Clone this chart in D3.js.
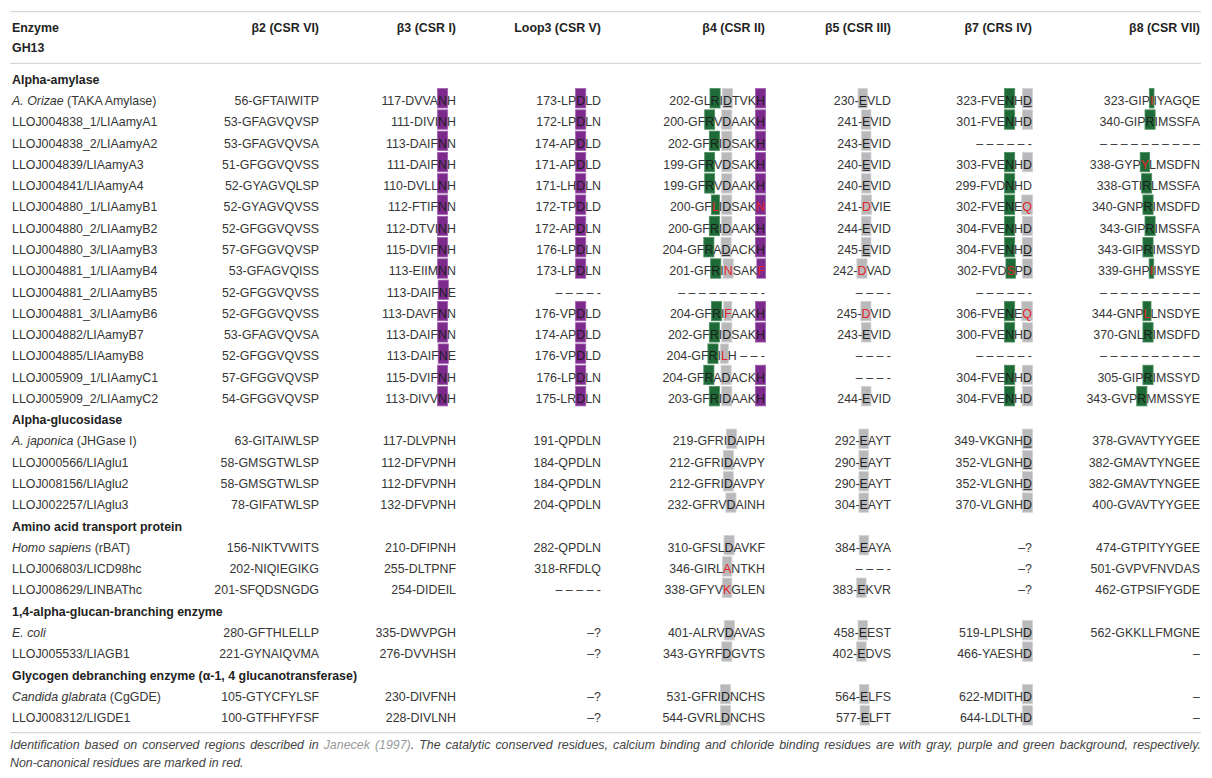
<!DOCTYPE html>
<html>
<head>
<meta charset="utf-8">
<script src="https://cdn.jsdelivr.net/npm/d3@7"></script>
<style>
  body { margin: 0; background: #fff; }
  text { font-family: "Liberation Sans", Arial, Helvetica, sans-serif; white-space: pre; }
</style>
</head>
<body>
<svg id="chart" width="1212" height="778"></svg>
<script>
// ---- data ----
// markup: [codes:X] -> g green bg, p purple bg, k gray bg, r red letter, u underline
const columns = ["β2 (CSR VI)", "β3 (CSR I)", "Loop3 (CSR V)", "β4 (CSR II)", "β5 (CSR III)", "β7 (CRS IV)", "β8 (CSR VII)"];

const groups = [
  "Alpha-amylase",
  "Alpha-glucosidase",
  "Amino acid transport protein",
  "1,4-alpha-glucan-branching enzyme",
  "Glycogen debranching enzyme (α-1, 4 glucanotransferase)"
];
const groupSizes = [15, 4, 3, 2, 2];

const enzymes = [
  "*A. Orizae* (TAKA Amylase)", "LLOJ004838_1/LIAamyA1", "LLOJ004838_2/LIAamyA2", "LLOJ004839/LIAamyA3",
  "LLOJ004841/LIAamyA4", "LLOJ004880_1/LIAamyB1", "LLOJ004880_2/LIAamyB2", "LLOJ004880_3/LIAamyB3",
  "LLOJ004881_1/LIAamyB4", "LLOJ004881_2/LIAamyB5", "LLOJ004881_3/LIAamyB6", "LLOJ004882/LIAamyB7",
  "LLOJ004885/LIAamyB8", "LLOJ005909_1/LIAamyC1", "LLOJ005909_2/LIAamyC2",
  "*A. japonica* (JHGase I)", "LLOJ000566/LIAglu1", "LLOJ008156/LIAglu2", "LLOJ002257/LIAglu3",
  "*Homo sapiens* (rBAT)", "LLOJ006803/LICD98hc", "LLOJ008629/LINBAThc",
  "*E. coli*", "LLOJ005533/LIAGB1",
  "*Candida glabrata* (CgGDE)", "LLOJ008312/LIGDE1"
];

const beta2 = [
  "56-GFTAIWITP", "53-GFAGVQVSP", "53-GFAGVQVSA", "51-GFGGVQVSS", "52-GYAGVQLSP", "52-GYAGVQVSS",
  "52-GFGGVQVSS", "57-GFGGVQVSP", "53-GFAGVQISS", "52-GFGGVQVSS", "52-GFGGVQVSS", "53-GFAGVQVSA",
  "52-GFGGVQVSS", "57-GFGGVQVSP", "54-GFGGVQVSP",
  "63-GITAIWLSP", "58-GMSGTWLSP", "58-GMSGTWLSP", "78-GIFATWLSP",
  "156-NIKTVWITS", "202-NIQIEGIKG", "201-SFQDSNGDG",
  "280-GFTHLELLP", "221-GYNAIQVMA",
  "105-GTYCFYLSF", "100-GTFHFYFSF"
];

const beta3 = [
  "117-DVVA[p:N]H", "111-DIVI[p:N]H", "113-DAIF[p:N]N", "111-DAIF[p:N]H", "110-DVLL[p:N]H", "112-FTIF[p:N]N",
  "112-DTVI[p:N]H", "115-DVIF[p:N]H", "113-EIIM[p:N]N", "113-DAIF[p:N]E", "113-DAVF[p:N]N", "113-DAIF[p:N]N",
  "113-DAIF[p:N]E", "115-DVIF[p:N]H", "113-DIVV[p:N]H",
  "117-DLVPNH", "112-DFVPNH", "112-DFVPNH", "132-DFVPNH",
  "210-DFIPNH", "255-DLTPNF", "254-DIDEIL",
  "335-DWVPGH", "276-DVVHSH",
  "230-DIVFNH", "228-DIVLNH"
];

const loop3 = [
  "173-LP[p:D]LD", "172-LP[p:D]LN", "174-AP[p:D]LD", "171-AP[p:D]LD", "171-LH[p:D]LN", "172-TP[p:D]LD",
  "172-AP[p:D]LN", "176-LP[p:D]LN", "173-LP[p:D]LN", "– – – – -", "176-VP[p:D]LD", "174-AP[p:D]LD",
  "176-VP[p:D]LD", "176-LP[p:D]LN", "175-LR[p:D]LN",
  "191-QPDLN", "184-QPDLN", "184-QPDLN", "204-QPDLN",
  "282-QPDLN", "318-RFDLQ", "– – – – -",
  "–?", "–?",
  "–?", "–?"
];

const beta4 = [
  "202-GL[g:R]I[ku:D]TVK[p:H]", "200-GF[g:R]V[k:D]AAK[p:H]", "202-GF[g:R]I[k:D]SAK[p:H]",
  "199-GF[g:R]V[k:D]SAK[p:H]", "199-GF[g:R]V[k:D]AAK[p:H]", "200-GF[gr:L]I[k:D]SAK[pr:N]",
  "200-GF[g:R]I[k:D]AAK[p:H]", "204-GF[g:R]A[ku:D]ACK[p:H]", "201-GF[g:R]I[kr:N]SAK[pr:F]",
  "– – – – – – – – -", "204-GF[g:R]I[kr:F]AAK[p:H]", "202-GF[g:R]I[k:D]SAK[p:H]",
  "204-GF[g:R]I[kr:L]H – – -", "204-GF[g:R]A[k:D]ACK[p:H]", "203-GF[g:R]I[k:D]AAK[p:H]",
  "219-GFRI[k:D]AIPH", "212-GFRI[k:D]AVPY", "212-GFRI[k:D]AVPY", "232-GFRV[k:D]AINH",
  "310-GFSL[k:D]AVKF", "346-GIRL[kr:A]NTKH", "338-GFYV[kr:K]GLEN",
  "401-ALRV[k:D]AVAS", "343-GYRF[k:D]GVTS",
  "531-GFRI[k:D]NCHS", "544-GVRL[k:D]NCHS"
];

const beta5 = [
  "230-[ku:E]VLD", "241-[k:E]VID", "243-[k:E]VID", "240-[ku:E]VID", "240-[k:E]VID", "241-[kr:D]VIE",
  "244-[k:E]VID", "245-[ku:E]VID", "242-[kr:D]VAD", "– – – -", "245-[kr:D]VID", "243-[k:E]VID",
  "– – – -", "– – – -", "244-[k:E]VID",
  "292-[k:E]AYT", "290-[k:E]AYT", "290-[k:E]AYT", "304-[k:E]AYT",
  "384-[k:E]AYA", "– – – -", "383-[k:E]KVR",
  "458-[k:E]EST", "402-[k:E]DVS",
  "564-[k:E]LFS", "577-[k:E]LFT"
];

const beta7 = [
  "323-FVE[g:N]H[ku:D]", "301-FVE[g:N]H[k:D]", "– – – – – -", "303-FVE[g:N]H[k:D]", "299-FVD[g:N]HD",
  "302-FVE[g:N]E[kr:Q]", "304-FVE[g:N]H[k:D]", "304-FVE[g:N]H[ku:D]", "302-FVD[gr:S]P[k:D]", "– – – – – -",
  "306-FVE[g:N]E[kr:Q]", "300-FVE[g:N]H[k:D]", "– – – – – -", "304-FVE[g:N]H[k:D]", "304-FVE[g:N]H[k:D]",
  "349-VKGNH[ku:D]", "352-VLGNH[ku:D]", "352-VLGNH[ku:D]", "370-VLGNH[k:D]",
  "–?", "–?", "–?",
  "519-LPLSH[k:D]", "466-YAESH[k:D]",
  "622-MDITH[k:D]", "644-LDLTH[k:D]"
];

const beta8 = [
  "323-GIP[gr:I]IYAGQE", "340-GIP[g:R]IMSSFA", "– – – – – – – – – –", "338-GYP[gr:Y]LMSDFN",
  "338-GTI[g:R]LMSSFA", "340-GNP[g:R]IMSDFD", "343-GIP[g:R]IMSSFA", "343-GIP[g:R]IMSSYD",
  "339-GHP[gr:I]IMSSYE", "– – – – – – – – – –", "344-GNP[gr:L]LNSDYE", "370-GNL[g:R]IMSDFD",
  "– – – – – – – – – –", "305-GIP[g:R]IMSSYD", "343-GVP[g:R]MMSSYE",
  "378-GVAVTYYGEE", "382-GMAVTYNGEE", "382-GMAVTYNGEE", "400-GVAVTYYGEE",
  "474-GTPITYYGEE", "501-GVPVFNVDAS", "462-GTPSIFYGDE",
  "562-GKKLLFMGNE", "–",
  "–", "–"
];

const footnote = [
  [["Identification based on conserved regions described in ", "n"], ["Janecek (1997)", "l"],
   [". The catalytic conserved residues, calcium binding and chloride binding residues are with gray, purple and green background, respectively.", "n"]],
  [["Non-canonical residues are marked in red.", "n"]]
];

// ---- styles ----
const ink = "#363636";
const inkOnBox = "#1e1e1e";
const red = "#e3242b";
const fills = { g: "#1f6b38", p: "#7d2a8d", k: "#b9b9bc" };
const strokes = { g: "#4d8f5f", p: "#a262b0", k: "#d3d3d5" };
const fontSize = 12.4;

const svg = d3.select("#chart");
const colData = [beta2, beta3, loop3, beta4, beta5, beta7, beta8];

// column anchors (right edges) and row positions
const colX = d3.scaleOrdinal().domain(columns).range([319, 456, 601, 765, 891, 1032, 1200]);
const nameX = 12;
const nLines = groups.length + enzymes.length;
const rowY = d3.scaleLinear().domain([0, nLines - 1]).range([79.3, 717.7]);
const base = 4.4; // centre -> baseline

// rules
const rules = [11.7, 63.3, 732.7];
svg.selectAll("line.rule").data(rules).enter().append("line")
  .attr("class", "rule")
  .attr("x1", 10).attr("x2", 1201)
  .attr("y1", d => d).attr("y2", d => d)
  .attr("stroke", "#cfcfcf").attr("stroke-width", 1);

// header
const head = svg.append("g").attr("font-weight", "bold").attr("font-size", fontSize).attr("fill", "#222");
head.append("text").attr("x", nameX).attr("y", 27.3 + base).text("Enzyme");
head.append("text").attr("x", nameX).attr("y", 47.7 + base).text("GH13");
head.selectAll("text.col").data(columns).enter().append("text")
  .attr("class", "col")
  .attr("x", d => colX(d)).attr("y", 27.3 + base)
  .attr("text-anchor", "end")
  .text(d => d);

// build line list
const lines = [];
let k = 0;
groups.forEach((gname, gi) => {
  lines.push({ type: "group", label: gname });
  for (let j = 0; j < groupSizes[gi]; j++, k++) lines.push({ type: "row", idx: k });
});

const bgLayer = svg.append("g");
const fgLayer = svg.append("g").attr("font-size", fontSize).attr("fill", ink);

function parseSeq(s) {
  const out = [];
  const re = /\[([a-z]+):(.)\]|([^\[])/g;
  let m;
  while ((m = re.exec(s))) {
    if (m[3] !== undefined) out.push({ ch: m[3], codes: "" });
    else out.push({ ch: m[2], codes: m[1] });
  }
  return out;
}

function drawCell(str, x, y) {
  const segs = parseSeq(str);
  const text = fgLayer.append("text").attr("x", x).attr("y", y).attr("text-anchor", "end");
  // merge plain runs into one tspan
  let run = "";
  segs.forEach(s => {
    if (!s.codes) { run += s.ch; return; }
    if (run) { text.append("tspan").text(run); run = ""; }
    text.append("tspan").text(s.ch).attr("fill", s.codes.includes("r") ? red : inkOnBox);
  });
  if (run) text.append("tspan").text(run);

  const node = text.node();
  segs.forEach((s, i) => {
    if (!s.codes) return;
    const e = node.getExtentOfChar(i);
    const bg = ["g", "p", "k"].find(c => s.codes.includes(c));
    if (bg) {
      bgLayer.append("rect")
        .attr("x", e.x - 0.6).attr("y", y - 16.4)
        .attr("width", e.width + 1.2).attr("height", 19.4)
        .attr("fill", fills[bg])
        .attr("stroke", strokes[bg]).attr("stroke-width", 0.8);
    }
    if (s.codes.includes("u")) {
      fgLayer.append("line")
        .attr("x1", e.x + 0.5).attr("x2", e.x + e.width - 0.5)
        .attr("y1", y + 1.6).attr("y2", y + 1.6)
        .attr("stroke", inkOnBox).attr("stroke-width", 0.9);
    }
  });
}

lines.forEach((ln, i) => {
  const y = rowY(i) + base;
  if (ln.type === "group") {
    fgLayer.append("text").attr("x", nameX).attr("y", y)
      .attr("font-weight", "bold").attr("fill", "#222").text(ln.label);
    return;
  }
  // name with italic parts
  const t = fgLayer.append("text").attr("x", nameX).attr("y", y);
  enzymes[ln.idx].split("*").forEach((part, pi) => {
    if (!part) return;
    t.append("tspan").text(part).attr("font-style", pi % 2 ? "italic" : "normal");
  });
  columns.forEach((c, ci) => drawCell(colData[ci][ln.idx], colX(c), y));
});

// footnote, first line justified to the table width
const footY = [744.3 + base, 762.7 + base];
footnote.forEach((parts, li) => {
  const t = svg.append("text").attr("x", 10).attr("y", footY[li])
    .attr("font-size", fontSize).attr("font-style", "italic").attr("fill", "#444");
  parts.forEach(([str, kind]) => t.append("tspan").text(str).attr("fill", kind === "l" ? "#9a9a9a" : "#444"));
  if (li === 0) {
    const w = t.node().getComputedTextLength();
    const spaces = parts.map(p => p[0]).join("").split(" ").length - 1;
    t.attr("word-spacing", (1191 - w) / spaces);
  }
});
</script>
</body>
</html>
